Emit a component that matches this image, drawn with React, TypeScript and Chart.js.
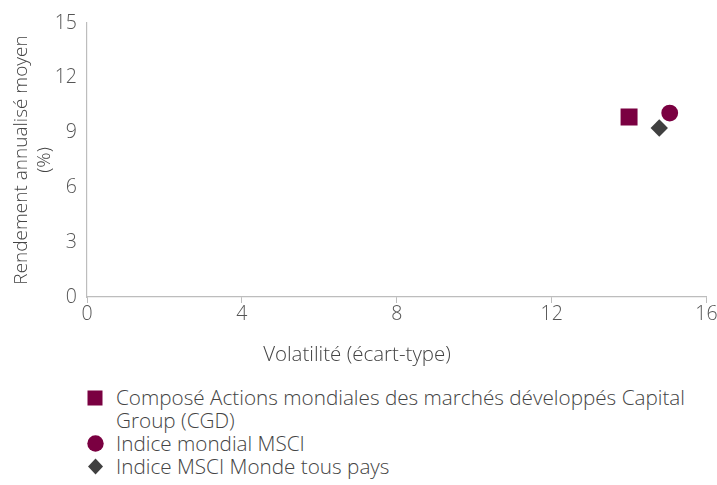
import React, { useEffect, useRef } from "react";
import { Chart, registerables } from "chart.js";

Chart.register(...registerables);

const seriesNames = [
  "Composé Actions mondiales des marchés développés Capital Group (CGD)",
  "Indice mondial MSCI",
  "Indice MSCI Monde tous pays",
];
const volatility = [14.0, 15.05, 14.78];
const returns = [9.85, 10.07, 9.25];
const colors = ["#7a0041", "#7a0041", "#404040"];
const pointStyles = ["rect", "circle", "rectRot"];
const pointRadii = [12, 8.4, 8.7];
const xTicks = [0, 4, 8, 12, 16];
const yTicks = [0, 3, 6, 9, 12, 15];
const xTitle = "Volatilité (écart-type)";
const yTitle = ["Rendement annualisé moyen", "(%)"];

const FONT = "'Open Sans', sans-serif";
const W = 717;
const CW = 730;
const CH = 340;
const AXIS_BOTTOM = 297;
const AXIS_RIGHT = 706.5;

export default function App() {
  const ref = useRef<HTMLCanvasElement | null>(null);
  useEffect(() => {
    if (!ref.current) return;
    const chart = new Chart(ref.current, {
      type: "scatter",
      data: {
        datasets: seriesNames.map((name, i) => ({
          label: name,
          data: [{ x: volatility[i], y: returns[i] }],
          backgroundColor: colors[i],
          borderColor: colors[i],
          borderWidth: 0,
          pointStyle: pointStyles[i] as any,
          pointRadius: pointRadii[i],
        })),
      },
      options: {
        animation: false,
        responsive: false,
        devicePixelRatio: 1,
        layout: { padding: { top: 23, right: CW - AXIS_RIGHT, left: 0, bottom: 0 } },
        plugins: { legend: { display: false }, tooltip: { enabled: false } },
        scales: {
          x: {
            type: "linear",
            min: 0,
            max: 16,
            afterBuildTicks: (s: any) => {
              s.ticks = xTicks.map((v) => ({ value: v }));
            },
            afterFit: (s: any) => {
              s.height = CH - AXIS_BOTTOM;
            },
            grid: {
              display: true,
              drawOnChartArea: false,
              drawTicks: true,
              tickLength: 6,
              color: "#bdbdbd",
              lineWidth: 1,
            },
            border: { display: true, color: "#bdbdbd", width: 1.2 },
            ticks: {
              padding: 0,
              color: "#555",
              font: { family: FONT, size: 19.5, weight: "300" as any },
              maxRotation: 0,
            },
          },
          y: {
            type: "linear",
            min: 0,
            max: 15,
            afterBuildTicks: (s: any) => {
              s.ticks = yTicks.map((v) => ({ value: v }));
            },
            afterFit: (s: any) => {
              s.width = 87;
            },
            grid: { display: true, drawOnChartArea: false, drawTicks: false, color: "#bdbdbd" },
            border: { display: true, color: "#bdbdbd", width: 1.2 },
            ticks: {
              padding: 10,
              color: "#555",
              font: { family: FONT, size: 19.5, weight: "300" as any },
            },
            title: {
              display: true,
              text: yTitle,
              color: "#444",
              padding: { top: 10.5, bottom: 0 },
              font: { family: FONT, size: 19, weight: "300" as any, lineHeight: 23 / 19 },
            },
          },
        },
      },
    });
    return () => chart.destroy();
  }, []);

  const textStyle: React.CSSProperties = {
    fontFamily: FONT,
    fontWeight: 300,
    fontSize: 20.7,
    color: "#444",
    lineHeight: "23px",
  };

  const marker = (i: number) => {
    const c = colors[i];
    if (pointStyles[i] === "rect")
      return (
        <svg width="16" height="16" style={{ position: "absolute", left: 87, top: 4 }}>
          <rect x="0.5" y="0.5" width="15" height="15" fill={c} />
        </svg>
      );
    if (pointStyles[i] === "circle")
      return (
        <svg width="17" height="17" style={{ position: "absolute", left: 86.5, top: 3 }}>
          <circle cx="8.5" cy="8.5" r="8.2" fill={c} />
        </svg>
      );
    return (
      <svg width="17" height="17" style={{ position: "absolute", left: 87, top: 3 }}>
        <polygon points="8.5,0.5 16,8.5 8.5,16.5 1,8.5" fill={c} />
      </svg>
    );
  };

  return (
    <div style={{ position: "fixed", left: 0, top: 0, width: W, height: 485, background: "#fff", overflow: "hidden" }}>
      <canvas ref={ref} width={CW} height={CH} style={{ position: "absolute", left: 0, top: 0, width: CW, height: CH }} />
      <div
        style={{
          ...textStyle,
          position: "absolute",
          left: 0,
          width: 714,
          top: 342,
          textAlign: "center",
          fontSize: 20.5,
        }}
      >
        {xTitle}
      </div>
      <div style={{ position: "absolute", left: 0, top: 386, width: W }}>
        {seriesNames.map((name, i) => (
          <div key={i} style={{ position: "relative", ...textStyle }}>
            {marker(i)}
            <div style={{ marginLeft: 116, width: 600, whiteSpace: "nowrap" }}>
              {i === 0 ? (
                <>
                  Composé Actions mondiales des marchés développés Capital
                  <br />
                  Group (CGD)
                </>
              ) : (
                name
              )}
            </div>
          </div>
        ))}
      </div>
    </div>
  );
}
